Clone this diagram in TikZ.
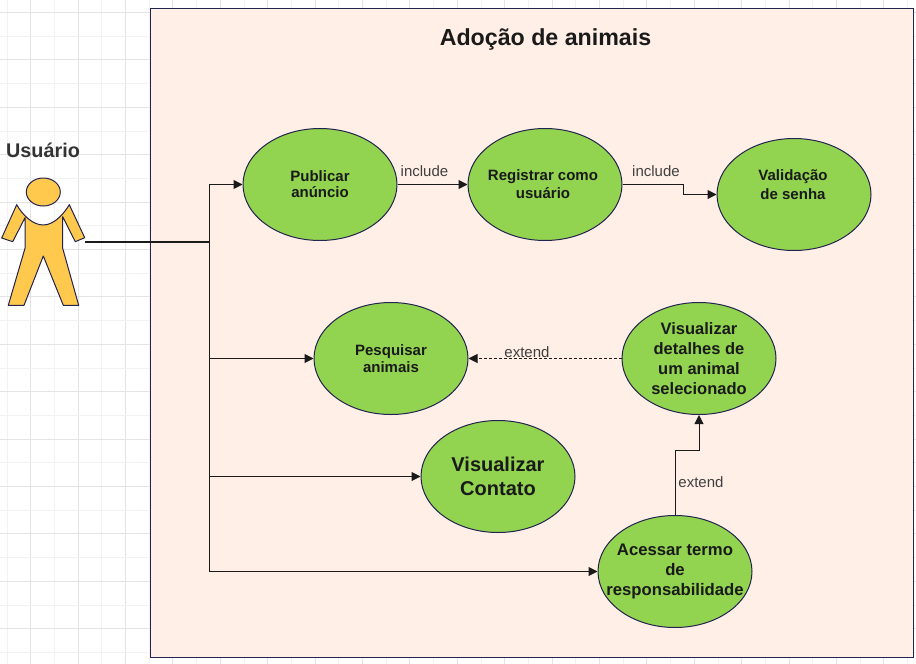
\documentclass[tikz,border=0pt]{standalone}
\usepackage{fontspec}
\setmainfont{Liberation Sans}
\usetikzlibrary{arrows.meta,shapes.geometric}
\definecolor{gridA}{HTML}{E4E4E4}
\definecolor{gridB}{HTML}{F2F2F2}
\definecolor{boxfill}{HTML}{FFEFE6}
\definecolor{boxline}{HTML}{23234F}
\definecolor{green1}{HTML}{92D350}
\definecolor{gold1}{HTML}{FFC94D}
\definecolor{ink}{HTML}{1A1A1A}
\tikzset{
  usecase/.style={ellipse,draw=boxline,fill=green1,line width=1pt,minimum width=154pt,minimum height=112pt,inner sep=-40pt,align=center,text=ink,font=\bfseries\fontsize{15}{17}\selectfont},
  conn/.style={draw=ink,line width=1pt,-{Triangle[length=9pt,width=9pt]}},
  plainconn/.style={draw=ink,line width=1pt},
  rel/.style={font=\fontsize{15}{17}\selectfont,text=black!75,inner sep=0pt},
  actorshape/.style={draw=boxline,fill=gold1,line width=1pt,line join=round}
}
\begin{document}
\begin{tikzpicture}[x=1pt,y=-1pt]
\useasboundingbox (0,0) rectangle (916,664);
\fill[white] (0,0) rectangle (916,664);
% grid
\foreach \i in {0,...,38}{
  \pgfmathsetmacro{\xx}{7+23.7*\i}
  \pgfmathtruncatemacro{\mm}{mod(\i,2)}
  \ifnum\mm=1 \draw[gridA,line width=1pt] (\xx,0)--(\xx,664);
  \else \draw[gridB,line width=1pt] (\xx,0)--(\xx,664); \fi
}
\foreach \i in {0,...,28}{
  \pgfmathsetmacro{\yy}{12.5+23.7*\i}
  \pgfmathtruncatemacro{\mm}{mod(\i,2)}
  \ifnum\mm=0 \draw[gridA,line width=1pt] (0,\yy)--(916,\yy);
  \else \draw[gridB,line width=1pt] (0,\yy)--(916,\yy); \fi
}
% system box
\node[draw=boxline,fill=boxfill,line width=1.3pt,minimum width=763pt,minimum height=649pt,inner sep=0pt,anchor=north west] (sys) at (150,8) {};
\node[font=\bfseries\fontsize{23.2}{27}\selectfont,text=ink,inner sep=0pt] (title) at (545.5,40) {Adoção de animais};
% actor
\node[font=\bfseries\fontsize{19.8}{23}\selectfont,text=black!80,inner sep=0pt] (lab) at (43,150.5) {Usuário};
\node[ellipse,draw=boxline,fill=gold1,line width=1pt,minimum width=34pt,minimum height=28pt,inner sep=0pt] (head) at (43.3,192) {};
\path[actorshape] (16.7,204.7) -- (1.7,238) -- (12.7,241.7) -- (25,217.7)
  -- (25,248.3) -- (8.3,305.3) -- (24,305.3) -- (43.3,256) -- (63.3,305.3) -- (78.7,305.3)
  -- (62.7,248.3) -- (62.7,216.7) -- (75.3,241.7) -- (84.7,237.7) -- (69.3,204.7)
  .. controls (65,212) and (55,225) .. (43.3,225) .. controls (32,225) and (22,214) .. (16.7,204.7) -- cycle;
\coordinate (actorhand) at (85,242);
\coordinate (trunk) at (209,242);
\coordinate (trunktop) at (209,184.5);
\coordinate (trunkb) at (209,358.5);
\coordinate (trunkc) at (209,476.5);
\coordinate (trunkd) at (209,571.5);
% use cases
\node[usecase] (pub) at (320,184.5) {\raisebox{1pt}{\shortstack{Publicar\\[1pt]anúncio}}};
\node[usecase] (reg) at (545,184.5) {\hspace{-4pt}\raisebox{1pt}{\shortstack{Registrar como\\[1pt]usuário}}};
\node[usecase] (val) at (794,194.5) {};
\node[font=\bfseries\fontsize{15}{19}\selectfont,text=ink,align=center,inner sep=0pt] (valtxt) at (793,185) {Validação\\de senha};
\node[usecase] (pes) at (391,358.5) {Pesquisar\\animais};
\node[usecase,font=\bfseries\fontsize{16.5}{20}\selectfont] (det) at (699,358.5) {Visualizar\\detalhes de\\um animal\\selecionado};
\node[usecase,font=\bfseries\fontsize{20}{24.5}\selectfont] (con) at (498,476.5) {Visualizar\\Contato};
\node[usecase,font=\bfseries\fontsize{16.7}{20}\selectfont] (ace) at (675,571.5) {Acessar termo\\de\\responsabilidade};
% connectors
\draw[draw=ink,line width=2pt] (actorhand) -- (trunk);
\draw[plainconn] (trunktop) -- (trunkd);
\draw[conn] (trunktop) -- (pub.west);
\draw[conn] (trunkb) -- (pes.west);
\draw[conn] (trunkc) -- (con.west);
\draw[conn] (trunkd) -- (ace.west);
\draw[conn] (pub.east) -- (reg.west);
\node[rel] (inc1) at (424.5,171) {include};
\draw[conn] (reg.east) -- (683,184.5) -- (683,194.5) -- (val.west);
\node[rel] (inc2) at (656,171) {include};
\draw[conn,dashed,dash pattern=on 3pt off 2pt] (det.west) -- (pes.east);
\node[rel] (ext1) at (527,352) {extend};
\draw[conn] (ace.north) -- (675,450) -- (699,450) -- (det.south);
\node[rel] (ext2) at (701,482) {extend};
\end{tikzpicture}
\end{document}
